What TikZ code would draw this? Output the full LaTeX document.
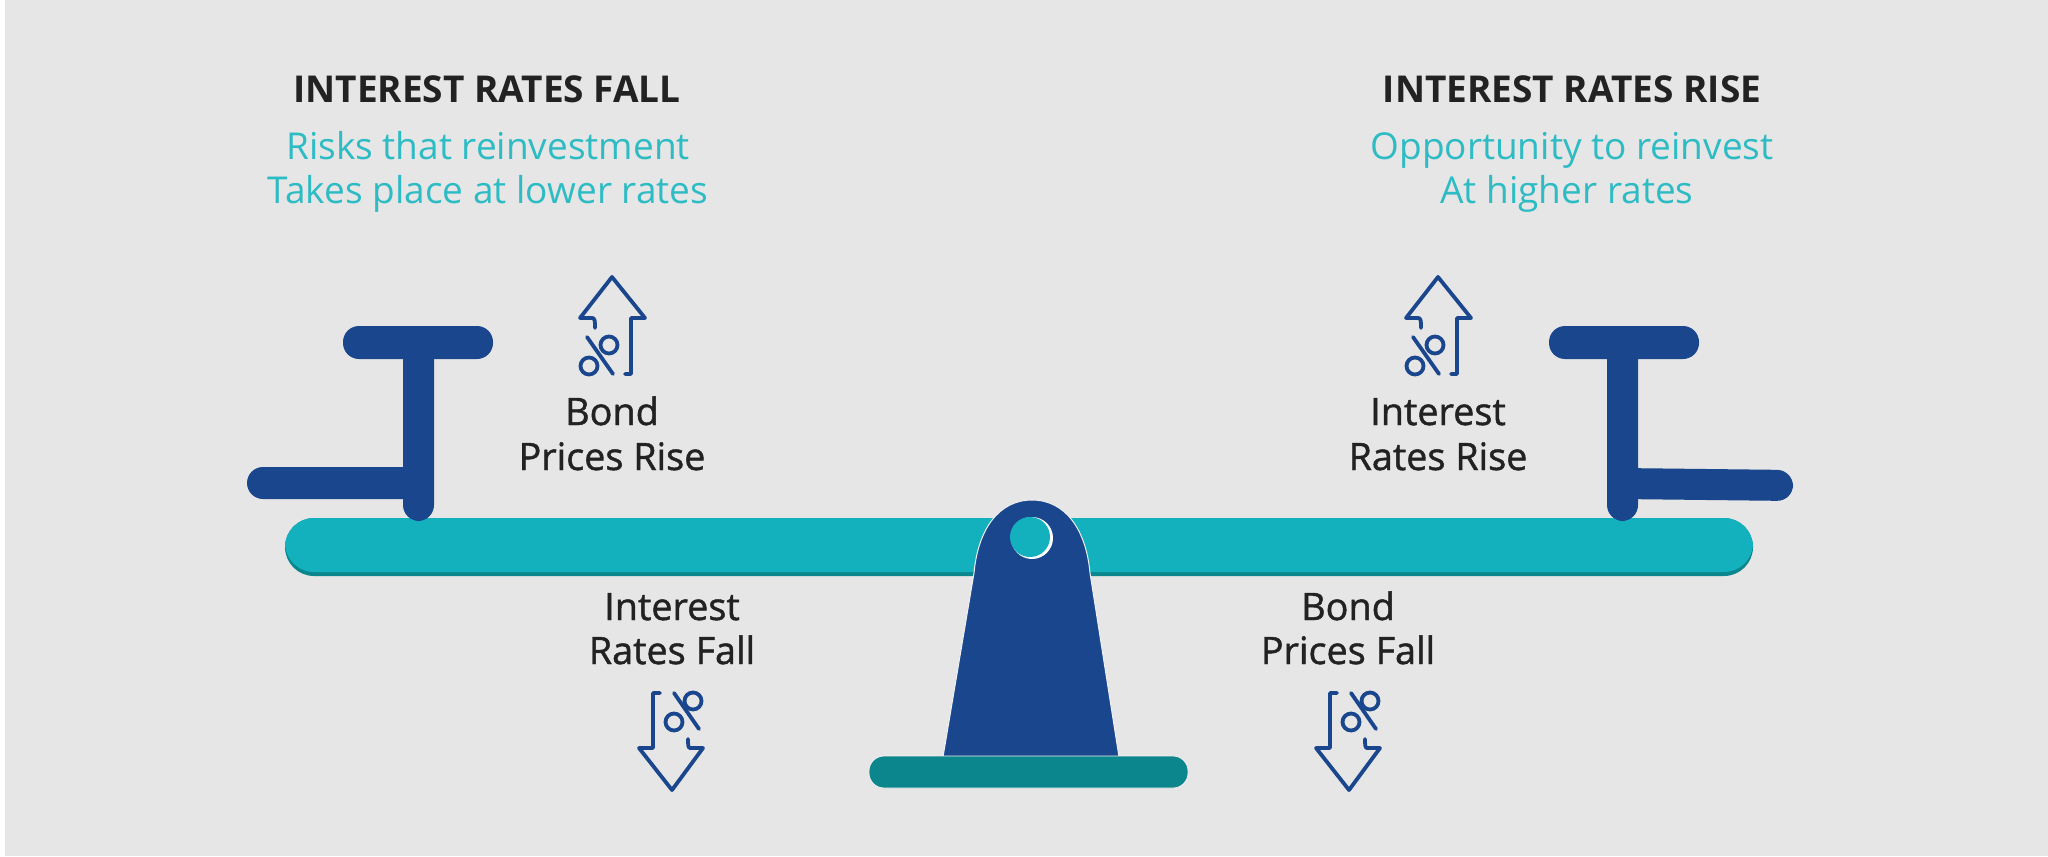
\documentclass[tikz,border=0pt]{standalone}
\usepackage{fontspec}
\setmainfont{Open Sans}
\newfontfamily\semifont[FakeBold=1.2]{Open Sans}
\definecolor{bgc}{HTML}{E6E6E6}
\definecolor{navy}{HTML}{1A468D}
\definecolor{tealb}{HTML}{12B1BD}
\definecolor{teald}{HTML}{0A868C}
\definecolor{tealt}{HTML}{2DBBC4}
\definecolor{inkc}{HTML}{222222}
\tikzset{
  x=0.5pt,y=-0.5pt,
  navybar/.style={fill=navy,rounded corners=8pt},
  icon/.style={draw=navy,line width=1.9pt,line cap=round,line join=round},
  title/.style={font=\bfseries\fontsize{18.5}{22}\selectfont,text=inkc,inner sep=0pt,anchor=base},
  teal text/.style={font=\fontsize{18.5}{22}\selectfont,text=tealt,inner sep=0pt,anchor=base},
  small label/.style={font=\semifont\fontsize{18.9}{21.6}\selectfont,text=inkc,inner sep=0pt,anchor=base},
  upicon/.pic={
    \draw[icon] (13,97) -- (19,97) -- (19,41) -- (33,41) -- (0,0) -- (-32,41) -- (-20,41) .. controls (-17,41) and (-17,44) .. (-17,51);
    \draw[icon] (-25,60) -- (1,97);
    \draw[icon] (-3,68) circle[radius=8.5];
    \draw[icon] (-23,89) circle[radius=8.5];
  },
  downicon/.pic={
    \draw[icon] (-12,-97) -- (-19,-97) -- (-19,-42) -- (-33,-42) -- (0,0) -- (31,-42) -- (18,-42) .. controls (16,-42) and (16,-46) .. (16,-51);
    \draw[icon] (2,-97) -- (27,-61);
    \draw[icon] (21,-89) circle[radius=8.5];
    \draw[icon] (2,-68) circle[radius=8.5];
  }
}
\begin{document}
\begin{tikzpicture}
\useasboundingbox (0,0) rectangle (2048,856);
\fill[white] (0,0) rectangle (2048,856);
\fill[bgc] (5,0) rectangle (2048,856);
% beam
\fill[teald,rounded corners=14.5pt] (285,518) rectangle (1753,576);
\fill[tealb,rounded corners=14.5pt] (285,518) rectangle (1753,572);
% left T
\fill[navybar] (343,326) rectangle (493,359);
\fill[navybar] (247,467) rectangle (425,499);
\fill[navybar] (403,340) rectangle (434,521);
% right T
\fill[navybar] (1549,326) rectangle (1699,359);
\fill[navybar] (1620,468) -- (1793,470) -- (1793,501) -- (1620,499) -- cycle;
\fill[navybar] (1607,340) rectangle (1638,521);
% fulcrum
\fill[navy,draw=white!45!bgc,line width=0.5pt]
  (943,757) -- (974,573) .. controls (978,529) and (999,500) .. (1032,500)
  .. controls (1065,500) and (1086,529) .. (1090,573) -- (1119,757) -- cycle;
\fill[white] (1032,538) circle[radius=21];
\fill[tealb] (1030,537) circle[radius=20];
\fill[teald,rounded corners=7.5pt,draw=white!40!bgc,line width=0.4pt] (869,756) rectangle (1188,788);
% texts
\node[title] (tl) at (487,103) {INTEREST RATES FALL};
\node[teal text] (sl1) at (488,159) {Risks that reinvestment};
\node[teal text] (sl2) at (488,203) {Takes place at lower rates};
\node[title] (tr) at (1572,103) {INTEREST RATES RISE};
\node[teal text] (sr1) at (1572,159) {Opportunity to reinvest};
\node[teal text] (sr2) at (1567,203) {At higher rates};
\node[small label] (a1) at (612,425) {Bond};
\node[small label] (a2) at (612,470) {Prices Rise};
\node[small label] (b1) at (1438,425) {Interest};
\node[small label] (b2) at (1438,470) {Rates Rise};
\node[small label] (c1) at (672,620) {Interest};
\node[small label] (c2) at (672,664) {Rates Fall};
\node[small label] (d1) at (1348,620) {Bond};
\node[small label] (d2) at (1348,664) {Prices Fall};
% icons
\pic at (612,277) {upicon};
\pic at (1438,277) {upicon};
\pic at (672,790) {downicon};
\pic at (1349,790) {downicon};
\end{tikzpicture}
\end{document}
